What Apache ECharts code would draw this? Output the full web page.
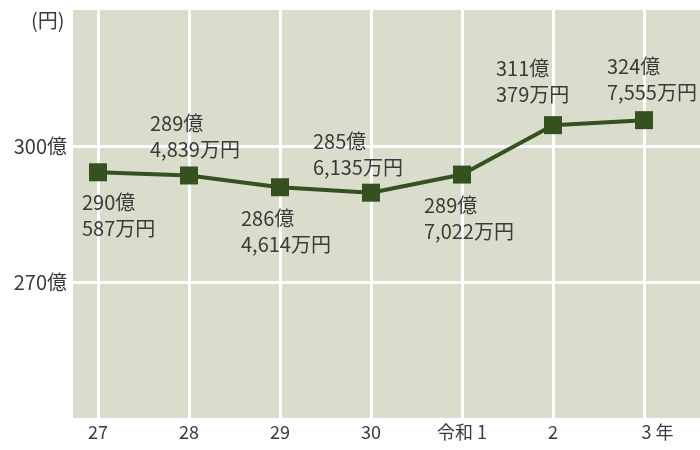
<!DOCTYPE html>
<html>
<head>
<meta charset="utf-8">
<script src="https://cdn.jsdelivr.net/npm/echarts@6/dist/echarts.min.js"></script>
<style>
  html, body { margin: 0; padding: 0; background: #fff; }
  #chart { width: 700px; height: 450px; }
</style>
</head>
<body>
<div id="chart"></div>
<script>
// 年度
var years = ['27', '28', '29', '30', '令和 1', '2', '3 年']
// 折れ線の高さ（図の位置から読み取り）
var values = [294.2, 293.5, 290.9, 289.7, 293.7, 304.6, 305.7]
// ラベル文字
var okuText = ['290億', '289億', '286億', '285億', '289億', '311億', '324億']
var manText = ['587万円', '4,839万円', '4,614万円', '6,135万円', '7,022万円', '379万円', '7,555万円']

// ラベル位置（マーカー左上からのずれ）
var labelPos = [[-7, 26], [-30, -56], [-30, 27], [-49, -55], [-29, 27], [-48, -61], [-28, -58]]

var font = '"Noto Sans CJK JP", "Noto Sans", sans-serif'
var textColor = '#3a3a3a'
var green = '#34511f'

var chart = echarts.init(document.getElementById('chart'))

var seriesData = values.map(function (v, i) {
  return {
    value: v,
    label: {
      position: labelPos[i],
      formatter: okuText[i] + '\n' + manText[i]
    }
  }
})

chart.setOption({
  animation: false,
  title: {
    text: '(円)',
    left: 26,
    top: 5,
    textStyle: { fontFamily: font, fontSize: 20, fontWeight: 'normal', color: textColor }
  },
  grid: [
    // 背景と横線
    { left: 73, right: 0, top: 10, bottom: 32, show: true, backgroundColor: '#dbddcc', borderWidth: 0 },
    // データ
    { left: 98, right: 56, top: 10, bottom: 32 }
  ],
  xAxis: [
    { gridIndex: 0, type: 'value', show: false },
    {
      gridIndex: 1,
      type: 'category',
      data: years.map(function (y, i) {
        return i === years.length - 1 ? { value: y, textStyle: { padding: [0, 0, 0, 27] } } : y
      }),
      boundaryGap: false,
      axisLine: { show: false },
      axisTick: { show: false },
      axisLabel: { margin: 5, fontFamily: font, fontSize: 18, color: textColor },
      splitLine: { show: true, lineStyle: { color: '#ffffff', width: 3 } }
    }
  ],
  yAxis: [
    {
      gridIndex: 0,
      type: 'value',
      min: 240,
      max: 330,
      interval: 30,
      axisLine: { show: false },
      axisTick: { show: false },
      axisLabel: {
        margin: 6,
        fontFamily: font,
        fontSize: 20,
        color: textColor,
        formatter: function (v) { return (v === 270 || v === 300) ? v + '億' : '' }
      },
      splitLine: { show: true, showMinLine: false, showMaxLine: false, lineStyle: { color: '#ffffff', width: 3 } }
    },
    { gridIndex: 1, type: 'value', min: 240, max: 330, show: false, splitLine: { show: false } }
  ],
  series: [
    {
      type: 'line',
      xAxisIndex: 1,
      yAxisIndex: 1,
      data: seriesData,
      symbol: 'rect',
      symbolSize: 18,
      lineStyle: { color: green, width: 4 },
      itemStyle: { color: green },
      label: {
        show: true,
        align: 'left',
        verticalAlign: 'top',
        fontFamily: font,
        fontSize: 20,
        lineHeight: 26,
        color: textColor
      }
    }
  ]
})
</script>
</body>
</html>
